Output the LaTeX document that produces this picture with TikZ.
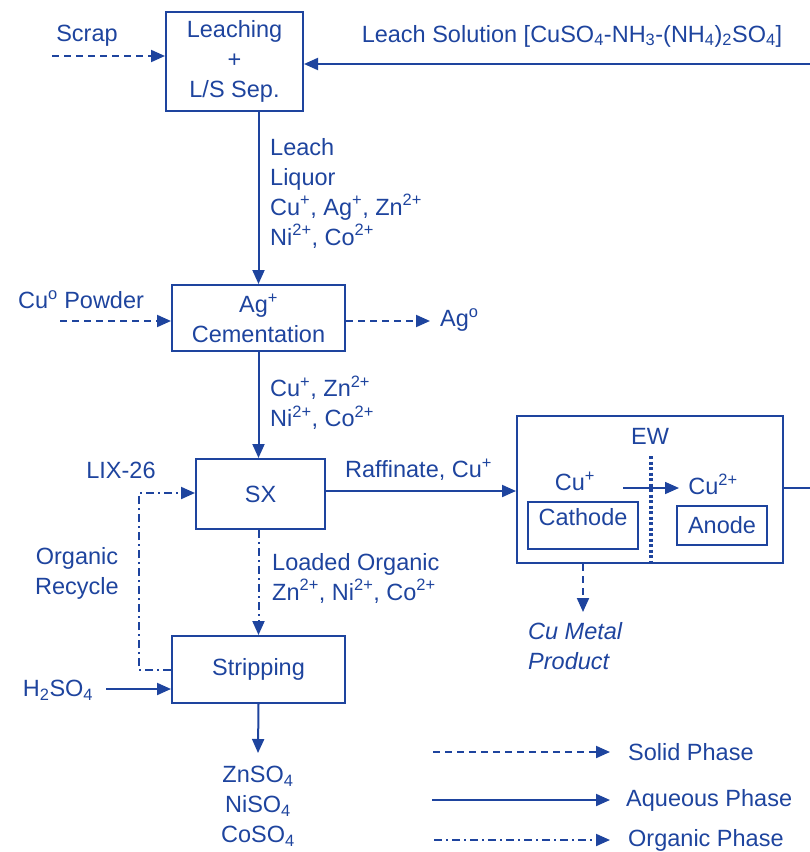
\documentclass[tikz,border=0pt]{standalone}
\usepackage{fontspec}
\setmainfont{Liberation Sans}
\usetikzlibrary{arrows.meta,calc}
\definecolor{ink}{RGB}{30,68,158}
\begin{document}
\begin{tikzpicture}[x=1pt,y=-1pt,
  every node/.style={text=ink,font=\fontsize{23.5}{30}\selectfont,inner sep=0pt},
  box/.style={draw=ink,line width=2pt,align=center},
  lbl/.style={anchor=west,align=left},
  flow/.style={draw=ink,line width=2pt,-{Triangle[length=14pt,width=12pt]}},
  aq/.style={flow},
  sol/.style={flow,dash pattern=on 7pt off 5pt},
  org/.style={flow,dash pattern=on 8pt off 4pt on 2pt off 4pt},
]
\useasboundingbox (0,0) rectangle (810,852);
% boxes
\node[box,minimum width=137pt,minimum height=99pt] (leach) at (234.5,61.5) {Leaching\\+\\L/S Sep.};
\node[box,minimum width=173pt,minimum height=66pt] (ag) at (258.5,318) {Ag\textsuperscript{+}\\Cementation};
\node[box,minimum width=129pt,minimum height=70pt] (sx) at (260.5,494) {SX};
\node[box,minimum width=173pt,minimum height=67pt] (strip) at (258.5,669.5) {Stripping};
\node[box,minimum width=266pt,minimum height=147pt] (ew) at (650,489.5) {};
\node (ewt) at (650,436) {EW};
\node[box,minimum width=110pt,minimum height=47pt] (cath) at (583,525.5) {};
\node (catht) at (583,517) {Cathode};
\node[box,minimum width=90pt,minimum height=39pt] (anode) at (722,525.5) {Anode};
\node (cup) at (575,481) {Cu\textsuperscript{+}};
\node (cu2) at (713,484) {Cu\textsuperscript{2+}};
\coordinate (eA) at (623,488);
\coordinate (eB) at (679,488);
\draw[aq,line width=1.6pt] (eA) -- (eB);
\coordinate (dT) at (651,456);
\coordinate (dB) at (651,563);
\draw[draw=ink,line width=3.5pt,dash pattern=on 3pt off 2.5pt] (dT) -- (dB);

% texts
\node (scrap) at (87,36) {Scrap};
\node (lsol) at (572,36) {Leach Solution [CuSO\textsubscript{4}-NH\textsubscript{3}-(NH\textsubscript{4})\textsubscript{2}SO\textsubscript{4}]};
\node[lbl] (liq) at (270,193) {Leach\\Liquor\\Cu\textsuperscript{+}, Ag\textsuperscript{+}, Zn\textsuperscript{2+}\\Ni\textsuperscript{2+}, Co\textsuperscript{2+}};
\node (cupow) at (81,300) {Cu\textsuperscript{o} Powder};
\node[anchor=west] (ago) at (440,320) {Ag\textsuperscript{o}};
\node[lbl] (l2) at (270,403) {Cu\textsuperscript{+}, Zn\textsuperscript{2+}\\Ni\textsuperscript{2+}, Co\textsuperscript{2+}};
\node (lix) at (121,470) {LIX-26};
\node[anchor=west] (raf) at (345,470) {Raffinate, Cu\textsuperscript{+}};
\node[align=center] (orec) at (77,573) {Organic\\Recycle};
\node[lbl] (lorg) at (272,578) {Loaded Organic\\Zn\textsuperscript{2+}, Ni\textsuperscript{2+}, Co\textsuperscript{2+}};
\node (h2) at (58,690) {H\textsubscript{2}SO\textsubscript{4}};
\node[align=center] (prod) at (258,806) {ZnSO\textsubscript{4}\\NiSO\textsubscript{4}\\CoSO\textsubscript{4}};
\node[lbl,font=\fontsize{23.5}{30}\selectfont\itshape] (cum) at (528,646) {Cu Metal\\Product};

% connectors
\coordinate (scS) at (52,56);
\draw[sol] (scS) -- (leach.west |- scS);
\coordinate (lsS) at (812,64);
\draw[aq] (lsS) -- (leach.east |- lsS);
\draw[aq] (leach.south -| ag.north) -- (ag.north);
\coordinate (cpS) at (60,321);
\draw[sol] (cpS) -- (ag.west |- cpS);
\coordinate (agE) at (430,321);
\draw[sol] (ag.east |- agE) -- (agE);
\draw[aq] (ag.south) -- (ag.south |- sx.north);
\coordinate (rfY) at (0,491);
\draw[aq] (sx.east |- rfY) -- (ew.west |- rfY);
\draw[org] (sx.south -| strip.north) -- (strip.north);
\coordinate (orA) at (139,670);
\coordinate (orB) at (139,493);
\draw[org] (strip.west |- orA) -- (orA) -- (orB) -- (sx.west |- orB);
\coordinate (h2S) at (106,689);
\draw[aq] (h2S) -- (strip.west |- h2S);
\coordinate (prT) at (258,753);
\draw[aq] (strip.south) -- (prT);
\coordinate (ewO) at (812,488);
\draw[draw=ink,line width=2pt] (ew.east |- ewO) -- (ewO);
\coordinate (cmE) at (583,612);
\draw[sol] (ew.south -| cmE) -- (cmE);

% legend
\coordinate (lg1a) at (433,752); \coordinate (lg1b) at (610,752);
\coordinate (lg2a) at (432,800); \coordinate (lg2b) at (610,800);
\coordinate (lg3a) at (434,840); \coordinate (lg3b) at (610,840);
\draw[sol] (lg1a) -- (lg1b);
\draw[aq] (lg2a) -- (lg2b);
\draw[org] (lg3a) -- (lg3b);
\node[anchor=west] (lgt1) at (628,752) {Solid Phase};
\node[anchor=west] (lgt2) at (626,800) {Aqueous Phase};
\node[anchor=west] (lgt3) at (628,840) {Organic Phase};
\end{tikzpicture}
\end{document}
